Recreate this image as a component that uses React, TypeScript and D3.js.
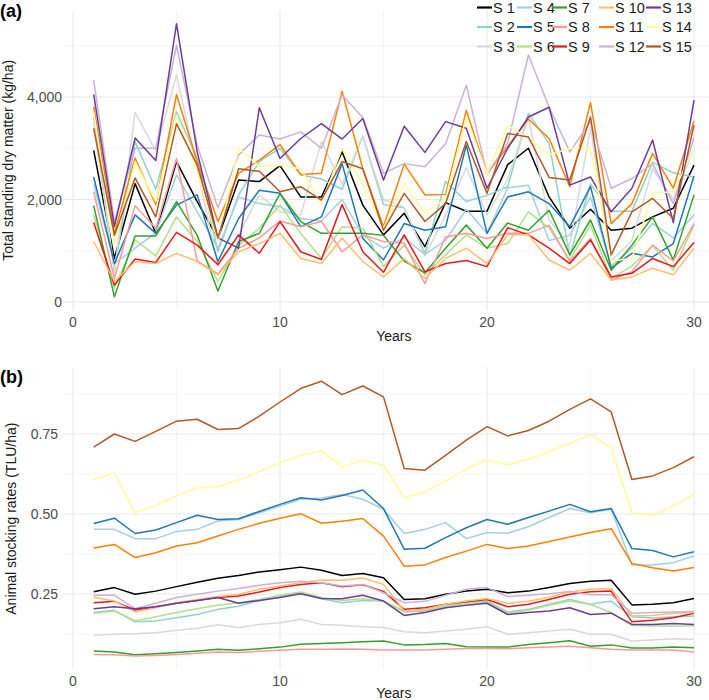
import React from 'react';
import * as d3 from 'd3';

// years of simulation
const years = [1, 2, 3, 4, 5, 6, 7, 8, 9, 10, 11, 12, 13, 14, 15, 16, 17, 18, 19, 20, 21, 22, 23, 24, 25, 26, 27, 28, 29, 30];

const seriesNames = ['S 1', 'S 2', 'S 3', 'S 4', 'S 5', 'S 6', 'S 7', 'S 8', 'S 9', 'S 10', 'S 11', 'S 12', 'S 13', 'S 14', 'S 15'];
const seriesColors = ['#000000', '#8dd3c7', '#d9d9d9', '#a6cee3', '#1f78b4', '#b2df8a', '#33a02c', '#fb9a99', '#e31a1c', '#fdbf6f', '#ff7f00', '#cab2d6', '#6a3d9a', '#ffff99', '#b15928'];

// (a) total standing dry matter, kg/ha
const dmS1 = [2960, 850, 2310, 1340, 2740, 1960, 1240, 2380, 2350, 2660, 2050, 2050, 2930, 1890, 1310, 1730, 1080, 1940, 1770, 1770, 2680, 3000, 2050, 1440, 1810, 1400, 1440, 1660, 1830, 2670];
const dmS2 = [3600, 590, 3130, 2200, 3710, 2800, 980, 2090, 2740, 3000, 2480, 2400, 2200, 3240, 1900, 1840, 950, 2350, 1960, 2080, 2250, 3680, 3090, 900, 2300, 1770, 1770, 2730, 2520, 2440];
const dmS3 = [3500, 600, 3700, 2950, 4430, 2600, 700, 1300, 2090, 1760, 1700, 3130, 2300, 3220, 2000, 1850, 900, 1700, 2620, 1700, 2400, 3600, 1600, 1110, 3400, 800, 1200, 2600, 2000, 3000];
const dmS4 = [2300, 750, 1050, 1350, 2480, 1760, 1050, 2050, 1920, 1860, 1630, 1580, 2000, 1300, 1050, 1250, 930, 1200, 1810, 1340, 2230, 2280, 1200, 1300, 2050, 700, 1050, 1530, 1250, 1700];
const dmS5 = [2440, 750, 1700, 1340, 1890, 2090, 790, 1630, 2180, 2120, 1470, 1660, 2700, 1240, 820, 1530, 1400, 1470, 3060, 1340, 2050, 2150, 1920, 1470, 2250, 660, 950, 880, 1140, 2460];
const dmS6 = [1700, 270, 1210, 900, 1660, 1180, 400, 1100, 1440, 1890, 1340, 850, 1470, 1440, 690, 1110, 530, 920, 1310, 1050, 1140, 1760, 1440, 820, 1500, 460, 700, 1100, 620, 1500];
const dmS7 = [1880, 100, 1290, 1290, 1960, 1300, 215, 1180, 1340, 2120, 1570, 1340, 1340, 1340, 1300, 800, 570, 1050, 1500, 1050, 1540, 1400, 1790, 920, 1600, 620, 1110, 1660, 820, 2090];
const dmS8 = [2150, 460, 1880, 1440, 2800, 800, 550, 1050, 1250, 1580, 1470, 1570, 980, 1310, 1180, 1150, 360, 1270, 1340, 1240, 1340, 1340, 1500, 790, 1240, 430, 590, 1110, 800, 1530];
const dmS9 = [1550, 330, 840, 770, 1360, 1110, 730, 1310, 950, 1570, 980, 830, 1900, 980, 580, 1310, 590, 750, 810, 690, 1450, 1310, 1050, 750, 1210, 490, 560, 850, 690, 1160];
const dmS10 = [1180, 400, 790, 750, 950, 790, 530, 980, 1140, 1340, 850, 750, 1250, 790, 490, 850, 460, 850, 1050, 750, 1310, 1310, 820, 620, 950, 430, 490, 660, 530, 1050];
const dmS11 = [3810, 1340, 2810, 1900, 4050, 2740, 1570, 2510, 2770, 3070, 2490, 2510, 4110, 2600, 1470, 2690, 2090, 2100, 3740, 2500, 3030, 3570, 3190, 2250, 3890, 1530, 1920, 2900, 2220, 3530];
const dmS12 = [4330, 1570, 3000, 3000, 5010, 3060, 1840, 2870, 3260, 3180, 3320, 3000, 4040, 3600, 2510, 2700, 2640, 3090, 4230, 2500, 3100, 4820, 3800, 2930, 3520, 2220, 2410, 2700, 1920, 3200];
const dmS13 = [4050, 1470, 3200, 2760, 5430, 2930, 1250, 1050, 3790, 2800, 3190, 3480, 3180, 3580, 2380, 3430, 2920, 3520, 3390, 2220, 3000, 3610, 3800, 2280, 2440, 1760, 2220, 3160, 1550, 3940];
const dmS14 = [3700, 1110, 2740, 1960, 3650, 2540, 1180, 3000, 2640, 2670, 2600, 1920, 3000, 2300, 1440, 2310, 1730, 2020, 3610, 2500, 3450, 3190, 2870, 3000, 3010, 800, 850, 2120, 2150, 3000];
const dmS15 = [3390, 1300, 2420, 1660, 3480, 2670, 1250, 2600, 2550, 2150, 2250, 1990, 2740, 2600, 1400, 2120, 1570, 1920, 3130, 2120, 3290, 3220, 2430, 2380, 3610, 920, 1760, 2020, 1630, 3450];

// (b) animal stocking rates, TLU/ha
const srS1 = [0.257, 0.27, 0.249, 0.259, 0.273, 0.287, 0.299, 0.308, 0.319, 0.326, 0.334, 0.324, 0.308, 0.314, 0.301, 0.233, 0.235, 0.249, 0.259, 0.265, 0.254, 0.259, 0.27, 0.283, 0.29, 0.293, 0.216, 0.218, 0.223, 0.236];
const srS2 = [0.192, 0.199, 0.163, 0.166, 0.176, 0.186, 0.202, 0.212, 0.23, 0.242, 0.254, 0.235, 0.223, 0.23, 0.228, 0.194, 0.197, 0.212, 0.223, 0.228, 0.194, 0.202, 0.218, 0.233, 0.218, 0.228, 0.179, 0.175, 0.179, 0.181];
const srS3 = [0.121, 0.124, 0.126, 0.129, 0.137, 0.143, 0.154, 0.145, 0.155, 0.16, 0.171, 0.155, 0.152, 0.148, 0.145, 0.132, 0.129, 0.134, 0.14, 0.148, 0.124, 0.129, 0.134, 0.14, 0.124, 0.124, 0.103, 0.106, 0.11, 0.108];
const srS4 = [0.452, 0.452, 0.423, 0.423, 0.445, 0.452, 0.478, 0.483, 0.504, 0.525, 0.546, 0.55, 0.561, 0.546, 0.515, 0.439, 0.452, 0.473, 0.423, 0.442, 0.44, 0.46, 0.489, 0.517, 0.504, 0.515, 0.341, 0.341, 0.348, 0.369];
const srS5 = [0.47, 0.487, 0.439, 0.45, 0.473, 0.496, 0.483, 0.485, 0.508, 0.53, 0.551, 0.544, 0.558, 0.575, 0.517, 0.39, 0.393, 0.426, 0.457, 0.483, 0.468, 0.489, 0.509, 0.53, 0.507, 0.517, 0.392, 0.386, 0.366, 0.382];
const srS6 = [0.19, 0.197, 0.166, 0.179, 0.192, 0.204, 0.215, 0.223, 0.233, 0.246, 0.256, 0.239, 0.23, 0.235, 0.228, 0.197, 0.199, 0.212, 0.221, 0.225, 0.19, 0.199, 0.215, 0.228, 0.217, 0.192, 0.152, 0.15, 0.15, 0.15];
const srS7 = [0.072, 0.069, 0.06, 0.063, 0.067, 0.072, 0.077, 0.074, 0.079, 0.084, 0.093, 0.095, 0.098, 0.101, 0.103, 0.091, 0.092, 0.095, 0.085, 0.084, 0.084, 0.092, 0.098, 0.104, 0.087, 0.091, 0.081, 0.081, 0.084, 0.082];
const srS8 = [0.061, 0.06, 0.056, 0.058, 0.061, 0.065, 0.069, 0.067, 0.071, 0.074, 0.077, 0.077, 0.078, 0.077, 0.075, 0.075, 0.075, 0.077, 0.08, 0.08, 0.079, 0.082, 0.084, 0.087, 0.082, 0.077, 0.075, 0.075, 0.075, 0.069];
const srS9 = [0.223, 0.227, 0.2, 0.21, 0.221, 0.23, 0.239, 0.244, 0.256, 0.27, 0.28, 0.285, 0.273, 0.279, 0.258, 0.202, 0.207, 0.218, 0.226, 0.233, 0.21, 0.218, 0.233, 0.249, 0.257, 0.259, 0.163, 0.168, 0.176, 0.19];
const srS10 = [0.24, 0.228, 0.194, 0.207, 0.223, 0.233, 0.242, 0.249, 0.265, 0.275, 0.285, 0.294, 0.293, 0.3, 0.28, 0.197, 0.202, 0.218, 0.228, 0.236, 0.221, 0.227, 0.24, 0.256, 0.265, 0.267, 0.181, 0.183, 0.19, 0.192];
const srS11 = [0.394, 0.405, 0.364, 0.379, 0.4, 0.41, 0.431, 0.452, 0.471, 0.487, 0.501, 0.471, 0.477, 0.486, 0.431, 0.337, 0.341, 0.364, 0.384, 0.405, 0.392, 0.4, 0.414, 0.428, 0.442, 0.454, 0.345, 0.332, 0.322, 0.333];
const srS12 = [0.246, 0.246, 0.204, 0.221, 0.239, 0.249, 0.259, 0.267, 0.277, 0.285, 0.29, 0.285, 0.275, 0.28, 0.254, 0.223, 0.227, 0.246, 0.265, 0.27, 0.242, 0.246, 0.251, 0.258, 0.248, 0.248, 0.19, 0.192, 0.194, 0.195];
const srS13 = [0.204, 0.21, 0.204, 0.21, 0.221, 0.23, 0.239, 0.221, 0.23, 0.239, 0.251, 0.236, 0.235, 0.246, 0.228, 0.183, 0.192, 0.207, 0.215, 0.221, 0.186, 0.192, 0.197, 0.207, 0.186, 0.19, 0.155, 0.155, 0.158, 0.155];
const srS14 = [0.608, 0.629, 0.504, 0.527, 0.556, 0.582, 0.585, 0.606, 0.633, 0.66, 0.683, 0.698, 0.648, 0.667, 0.653, 0.551, 0.569, 0.603, 0.64, 0.669, 0.654, 0.671, 0.694, 0.721, 0.748, 0.707, 0.504, 0.496, 0.525, 0.561];
const srS15 = [0.709, 0.75, 0.727, 0.758, 0.79, 0.796, 0.764, 0.767, 0.806, 0.85, 0.892, 0.915, 0.873, 0.9, 0.866, 0.642, 0.637, 0.683, 0.731, 0.773, 0.744, 0.761, 0.79, 0.827, 0.86, 0.819, 0.608, 0.619, 0.645, 0.679];

const dryMatter = [dmS1, dmS2, dmS3, dmS4, dmS5, dmS6, dmS7, dmS8, dmS9, dmS10, dmS11, dmS12, dmS13, dmS14, dmS15];
const stocking = [srS1, srS2, srS3, srS4, srS5, srS6, srS7, srS8, srS9, srS10, srS11, srS12, srS13, srS14, srS15];

const font = '"Liberation Sans", Arial, sans-serif';
const W = 709;
const H = 700;

const x = d3.scaleLinear().domain([0, 30]).range([73, 694]);
const xMajor = [0, 10, 20, 30];
const xMinor = [5, 15, 25];
const panelLeft = x(1 - 0.05 * 29);
const panelRight = Math.min(W, x(30 + 0.05 * 29));

function Panel({ data, y, majorTicks, minorTicks, fmt, yTitle, titleX, tickEnd, tag, tagY, tickY, xTitleY }) {
  const all = data.flat();
  const [lo, hi] = d3.extent(all);
  const pad = (hi - lo) * 0.05;
  const top = y(hi + pad);
  const bottom = y(lo - pad);
  const inside = (v) => y(v) >= top - 0.5 && y(v) <= bottom + 0.5;
  const line = d3.line().x((d, i) => x(years[i])).y((d) => y(d));
  return (
    <g>
      {minorTicks.filter(inside).map((t) => (
        <line key={'ym' + t} x1={panelLeft} x2={panelRight} y1={y(t)} y2={y(t)} stroke="#f2f2f2" strokeWidth={0.7} />
      ))}
      {xMinor.map((t) => (
        <line key={'xm' + t} x1={x(t)} x2={x(t)} y1={top} y2={bottom} stroke="#f2f2f2" strokeWidth={0.7} />
      ))}
      {majorTicks.map((t) => (
        <line key={'yM' + t} x1={panelLeft} x2={panelRight} y1={y(t)} y2={y(t)} stroke="#e8e8e8" strokeWidth={1} />
      ))}
      {xMajor.map((t) => (
        <line key={'xM' + t} x1={x(t)} x2={x(t)} y1={top} y2={bottom} stroke="#e8e8e8" strokeWidth={1} />
      ))}
      {data.map((s, i) => (
        <path key={i} d={line(s)} fill="none" stroke={seriesColors[i]} strokeWidth={1.5} strokeLinejoin="round" />
      ))}
      {majorTicks.map((t) => (
        <text key={'yl' + t} x={tickEnd} y={y(t) + 5} textAnchor="end" fontSize={14} fill="#4d4d4d" fontFamily={font}>{fmt(t)}</text>
      ))}
      {xMajor.map((t) => (
        <text key={'xl' + t} x={x(t)} y={tickY} textAnchor="middle" fontSize={14} fill="#4d4d4d" fontFamily={font}>{t}</text>
      ))}
      <text x={(panelLeft + x(31.45)) / 2} y={xTitleY} textAnchor="middle" fontSize={14} fill="#1a1a1a" fontFamily={font}>Years</text>
      <text transform={`translate(${titleX},${(top + bottom) / 2}) rotate(-90)`} textAnchor="middle" fontSize={14} fill="#1a1a1a" fontFamily={font}>{yTitle}</text>
      <text x={0} y={tagY} fontSize={18} fontWeight="bold" fontFamily={font}>{tag}</text>
    </g>
  );
}

const legendCols = [477, 517, 552, 599, 646];
const legendRows = [7.5, 27, 46.5];

function Legend() {
  return (
    <g>
      {seriesNames.map((name, i) => {
        const cx = legendCols[Math.floor(i / 3)];
        const cy = legendRows[i % 3];
        return (
          <g key={name}>
            <line x1={cx} x2={cx + 15} y1={cy} y2={cy} stroke={seriesColors[i]} strokeWidth={2.2} />
            <text x={cx + 16} y={cy + 5} fontSize={14.5} fill="#1a1a1a" fontFamily={font}>{name}</text>
          </g>
        );
      })}
    </g>
  );
}

export default function App() {
  const yA = d3.scaleLinear().domain([0, 4000]).range([302, 97]);
  const yB = d3.scaleLinear().domain([0, 0.75]).range([674, 434]);
  return (
    <svg width={W} height={H} style={{ position: 'absolute', left: 0, top: 0, background: '#fff' }}>
      <Panel
        data={dryMatter}
        y={yA}
        majorTicks={[0, 2000, 4000]}
        minorTicks={[1000, 3000, 5000]}
        fmt={d3.format(',')}
        yTitle="Total standing dry matter (kg/ha)"
        titleX={13}
        tickEnd={62}
        tag="(a)"
        tagY={17}
        tickY={327}
        xTitleY={341}
      />
      <Panel
        data={stocking}
        y={yB}
        majorTicks={[0.25, 0.5, 0.75]}
        minorTicks={[0.125, 0.375, 0.625, 0.875]}
        fmt={d3.format('.2f')}
        yTitle="Animal stocking rates (TLU/ha)"
        titleX={16}
        tickEnd={58}
        tag="(b)"
        tagY={383}
        tickY={686}
        xTitleY={698}
      />
      <Legend />
    </svg>
  );
}
